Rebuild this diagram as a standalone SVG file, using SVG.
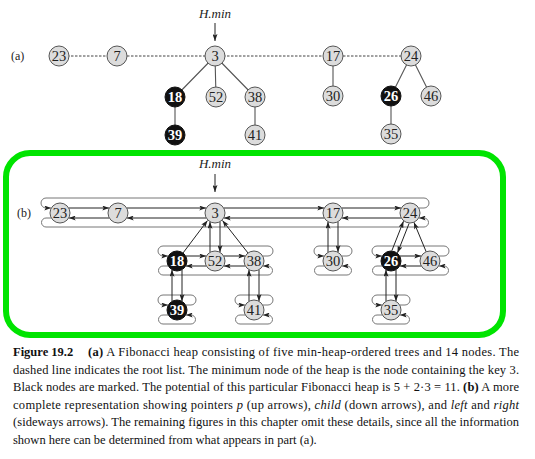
<svg xmlns="http://www.w3.org/2000/svg" width="535" height="459" viewBox="0 0 535 459">
<defs>
<marker id="ah" markerWidth="7" markerHeight="5" refX="7" refY="2.5" orient="auto" markerUnits="userSpaceOnUse"><path d="M0,0 L7,2.5 L0,5 L1.5,2.5 Z" fill="#222"/></marker>
<style>
.n circle{fill:#dcdcdc;stroke:#555;stroke-width:1}
.m circle{fill:#111;stroke:#111}
.n text{font-family:"Liberation Serif","Times New Roman",serif;font-size:14.5px;text-anchor:middle;fill:#222}
.m text{fill:#fff;font-weight:bold}
.tree{stroke:#555;stroke-width:1.1;fill:none}
.dash{stroke:#444;stroke-width:1;stroke-dasharray:2.5,1.5;fill:none}
.ptr{stroke:#222;stroke-width:1;fill:none;marker-end:url(#ah)}
.rail{stroke:#777;stroke-width:1;fill:none;marker-end:url(#ah)}
.lbl{font-family:"Liberation Serif","Times New Roman",serif;font-size:12px;fill:#222}
.hmin{font-family:"Liberation Serif","Times New Roman",serif;font-size:13px;font-style:italic;text-anchor:middle;fill:#222}
.cap{font-family:"Liberation Serif","Times New Roman",serif;font-size:12.5px;fill:#111}
</style>
</defs>
<rect width="535" height="459" fill="#fff"/>

<!-- Part (a) -->
<text class="lbl" x="11" y="60">(a)</text>
<text class="hmin" x="215" y="18">H.min</text>
<g id="connectors-a">
<path class="ptr" d="M215,23 V41"/>
<path class="dash" d="M59,56 H411"/>
<path class="tree" d="M215,56 L175,97 M215,56 L216,97 M215,56 L255,97 M175,97 V135 M255,97 V135 M333,56 V96 M411,56 L391,96 M411,56 L431,96 M391,96 V134"/>
</g>
<g id="a-23" class="n"><circle cx="59" cy="56" r="10"/><text x="59" y="61">23</text></g>
<g id="a-7" class="n"><circle cx="117" cy="56" r="10"/><text x="117" y="61">7</text></g>
<g id="a-3" class="n"><circle cx="215" cy="56" r="10"/><text x="215" y="61">3</text></g>
<g id="a-17" class="n"><circle cx="333" cy="56" r="10"/><text x="333" y="61">17</text></g>
<g id="a-24" class="n"><circle cx="411" cy="56" r="10"/><text x="411" y="61">24</text></g>
<g id="a-18" class="n m"><circle cx="175" cy="97" r="10"/><text x="175" y="102">18</text></g>
<g id="a-52" class="n"><circle cx="216" cy="97" r="10"/><text x="216" y="102">52</text></g>
<g id="a-38" class="n"><circle cx="255" cy="97" r="10"/><text x="255" y="102">38</text></g>
<g id="a-39" class="n m"><circle cx="175" cy="135" r="10"/><text x="175" y="140">39</text></g>
<g id="a-41" class="n"><circle cx="255" cy="135" r="10"/><text x="255" y="140">41</text></g>
<g id="a-30" class="n"><circle cx="333" cy="96" r="10"/><text x="333" y="101">30</text></g>
<g id="a-26" class="n m"><circle cx="391" cy="96" r="10"/><text x="391" y="101">26</text></g>
<g id="a-46" class="n"><circle cx="431" cy="96" r="10"/><text x="431" y="101">46</text></g>
<g id="a-35" class="n"><circle cx="391" cy="134" r="10"/><text x="391" y="139">35</text></g>

<!-- Part (b) -->
<rect x="6" y="153" width="497" height="182" rx="24" fill="none" stroke="#00e400" stroke-width="6"/>
<text class="lbl" x="17" y="217">(b)</text>
<text class="hmin" x="215" y="168">H.min</text>
<g id="connectors-b">
<path class="ptr" d="M215,174 V192"/>
<!-- root list -->
<path class="rail" d="M418.7,208 H424 A5 5 0 0 0 424,198 H46 A5 5 0 0 0 46,208 H51.3"/>
<path class="rail" d="M51.3,218 H46 A4.5 4.5 0 0 0 46,227 H424 A4.5 4.5 0 0 0 424,218 H418.7"/>
<path class="ptr" d="M68.7,208 H109.3"/>
<path class="ptr" d="M126.7,208 H206.3"/>
<path class="ptr" d="M223.7,208 H324.3"/>
<path class="ptr" d="M341.7,208 H401.3"/>
<path class="ptr" d="M109.3,218 H68.7"/>
<path class="ptr" d="M206.3,218 H126.7"/>
<path class="ptr" d="M324.3,218 H223.7"/>
<path class="ptr" d="M401.3,218 H341.7"/>
<!-- children of 3 -->
<path class="rail" d="M262.7,256 H268 A5 5 0 0 0 268,246 H163 A5 5 0 0 0 163,256 H168.3"/>
<path class="rail" d="M168.3,266 H163 A4.5 4.5 0 0 0 163,275 H268 A4.5 4.5 0 0 0 268,266 H262.7"/>
<path class="ptr" d="M185.7,256 H206.3"/>
<path class="ptr" d="M223.7,256 H245.3"/>
<path class="ptr" d="M206.3,266 H185.7"/>
<path class="ptr" d="M245.3,266 H223.7"/>
<!-- list of 39 -->
<path class="rail" d="M185.7,305 H191 A5 5 0 0 0 191,295 H163 A5 5 0 0 0 163,305 H168.3"/>
<path class="rail" d="M168.3,315 H163 A4.5 4.5 0 0 0 163,324 H191 A4.5 4.5 0 0 0 191,315 H185.7"/>
<!-- list of 41 -->
<path class="rail" d="M262.7,305 H268 A5 5 0 0 0 268,295 H240 A5 5 0 0 0 240,305 H245.3"/>
<path class="rail" d="M245.3,315 H240 A4.5 4.5 0 0 0 240,324 H268 A4.5 4.5 0 0 0 268,315 H262.7"/>
<!-- list of 30 -->
<path class="rail" d="M341.7,256 H347 A5 5 0 0 0 347,246 H319 A5 5 0 0 0 319,256 H324.3"/>
<path class="rail" d="M324.3,266 H319 A4.5 4.5 0 0 0 319,275 H347 A4.5 4.5 0 0 0 347,266 H341.7"/>
<!-- list of 26, 46 -->
<path class="rail" d="M438.7,256 H444 A5 5 0 0 0 444,246 H377 A5 5 0 0 0 377,256 H382.3"/>
<path class="rail" d="M382.3,266 H377 A4.5 4.5 0 0 0 377,275 H444 A4.5 4.5 0 0 0 444,266 H438.7"/>
<path class="ptr" d="M399.7,256 H421.3"/>
<path class="ptr" d="M421.3,266 H399.7"/>
<!-- list of 35 -->
<path class="rail" d="M399.7,305 H405 A5 5 0 0 0 405,295 H377 A5 5 0 0 0 377,305 H382.3"/>
<path class="rail" d="M382.3,315 H377 A4.5 4.5 0 0 0 377,324 H405 A4.5 4.5 0 0 0 405,315 H399.7"/>
<!-- parent / child pointers -->
<path class="ptr" d="M210,252.3 V221.7"/>
<path class="ptr" d="M220,221.7 V252.3"/>
<path class="ptr" d="M183,253 L207.5,220.5"/>
<path class="ptr" d="M248,253 L222.5,220.5"/>
<path class="ptr" d="M172,301.3 V269.7"/>
<path class="ptr" d="M182,269.7 V301.3"/>
<path class="ptr" d="M249,301.3 V269.7"/>
<path class="ptr" d="M259,269.7 V301.3"/>
<path class="ptr" d="M328,252.3 V221.7"/>
<path class="ptr" d="M338,221.7 V252.3"/>
<path class="ptr" d="M386,301.3 V269.7"/>
<path class="ptr" d="M396,269.7 V301.3"/>
<path class="ptr" d="M391.9,250.6 L403.5,221.2"/>
<path class="ptr" d="M409.1,223.4 L397.5,252.8"/>
<path class="ptr" d="M426.2,251.8 L413.9,222.2"/>
</g>
<g id="b-23" class="n"><circle cx="60" cy="213" r="10"/><text x="60" y="218">23</text></g>
<g id="b-7" class="n"><circle cx="118" cy="213" r="10"/><text x="118" y="218">7</text></g>
<g id="b-3" class="n"><circle cx="215" cy="213" r="10"/><text x="215" y="218">3</text></g>
<g id="b-17" class="n"><circle cx="333" cy="213" r="10"/><text x="333" y="218">17</text></g>
<g id="b-24" class="n"><circle cx="410" cy="213" r="10"/><text x="410" y="218">24</text></g>
<g id="b-18" class="n m"><circle cx="177" cy="261" r="10"/><text x="177" y="266">18</text></g>
<g id="b-52" class="n"><circle cx="215" cy="261" r="10"/><text x="215" y="266">52</text></g>
<g id="b-38" class="n"><circle cx="254" cy="261" r="10"/><text x="254" y="266">38</text></g>
<g id="b-39" class="n m"><circle cx="177" cy="310" r="10"/><text x="177" y="315">39</text></g>
<g id="b-41" class="n"><circle cx="254" cy="310" r="10"/><text x="254" y="315">41</text></g>
<g id="b-30" class="n"><circle cx="333" cy="261" r="10"/><text x="333" y="266">30</text></g>
<g id="b-26" class="n m"><circle cx="391" cy="261" r="10"/><text x="391" y="266">26</text></g>
<g id="b-46" class="n"><circle cx="430" cy="261" r="10"/><text x="430" y="266">46</text></g>
<g id="b-35" class="n"><circle cx="391" cy="310" r="10"/><text x="391" y="315">35</text></g>

<!-- Caption -->
<text class="cap" x="13" y="356" font-weight="bold">Figure 19.2</text>
<text class="cap" x="88" y="356" textLength="431" lengthAdjust="spacing"><tspan font-weight="bold">(a)</tspan> A Fibonacci heap consisting of five min-heap-ordered trees and 14 nodes. The</text>
<text class="cap" x="13" y="373.5" textLength="506" lengthAdjust="spacing">dashed line indicates the root list. The minimum node of the heap is the node containing the key 3.</text>
<text class="cap" x="13" y="391" textLength="506" lengthAdjust="spacing">Black nodes are marked. The potential of this particular Fibonacci heap is 5 + 2·3 = 11. <tspan font-weight="bold">(b)</tspan> A more</text>
<text class="cap" x="13" y="408.5" textLength="506" lengthAdjust="spacing">complete representation showing pointers <tspan font-style="italic">p</tspan> (up arrows), <tspan font-style="italic">child</tspan> (down arrows), and <tspan font-style="italic">left</tspan> and <tspan font-style="italic">right</tspan></text>
<text class="cap" x="13" y="426" textLength="506" lengthAdjust="spacing">(sideways arrows). The remaining figures in this chapter omit these details, since all the information</text>
<text class="cap" x="13" y="443.5">shown here can be determined from what appears in part (a).</text>
</svg>
